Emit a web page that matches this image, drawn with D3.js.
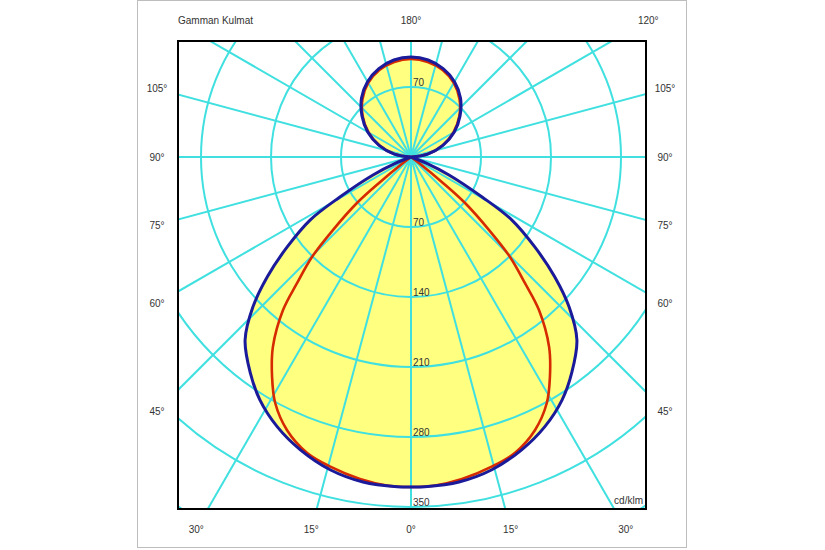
<!DOCTYPE html>
<html>
<head>
<meta charset="utf-8">
<script src="https://cdn.jsdelivr.net/npm/d3@7"></script>
<style>
  html, body { margin: 0; padding: 0; background: #fff; }
  svg { display: block; }
  text { font-family: "Liberation Sans", Arial, sans-serif; font-size: 10px; fill: #333; }
</style>
</head>
<body>
<svg id="chart" width="825" height="550"></svg>
<script>
// C0/C180 plane (blue): gamma angles (deg from nadir) and intensities (cd/klm)
const blueGammas = [0,2.4,8.4,14.5,20.7,26.4,31.9,36.7,42.2,46.5,50.2,54,58,60.6,64.7,68,72,90,100,110,120,130,140,150,160,170,180];
const blueValues = [330,330,328.5,323,313,301,286,269,247,218,187,153,119,82,42,17,0,0,17,34,50,64,77,87,94,98.5,100];
// C90/C270 plane (red)
const redGammas = [0,4,9,14.6,19.4,24.4,28.9,32.3,36,39.9,42.1,44.7,46.9,49.6,51,52.5,54,90,100,110,120,130,140,150,160,170,180];
const redValues = [330,329.5,326,320,313.5,300,281,260,235,199.5,170,141,107,71,40,12,0,0,17,33.5,49,63,75.5,85.5,92.5,96.5,98];
// Grid rings (cd/klm) and labelled ring values
const ringValues = [70,140,210,280,350,420];
const ringLabels = [70,140,210,280,350];
// Spoke angles (every 15°)
const spokeAngles = d3.range(0, 360, 15);
// Angle tick labels
const sideLabels = [105,90,75,60,45];
const bottomLabels = [-30,-15,0,15,30];
const topLabels = [180,120];
const title = "Gamman Kulmat";
const unitLabel = "cd/klm";

const svg = d3.select("#chart");
const frame = {x0:178, y0:41, x1:646, y1:509};
const cx = 411, cy = 157;
const r = d3.scaleLinear().domain([0,350]).range([0,350]);
const toRad = d => d * Math.PI / 180;

// outer border
svg.append("rect").attr("x",137.5).attr("y",0.5).attr("width",549).attr("height",547)
  .attr("fill","#fff").attr("stroke","#bdbdbd").attr("stroke-width",1);

svg.append("defs").append("clipPath").attr("id","clip")
  .append("rect").attr("x",frame.x0).attr("y",frame.y0)
  .attr("width",frame.x1-frame.x0).attr("height",frame.y1-frame.y0);

const plot = svg.append("g").attr("clip-path","url(#clip)");
const g = plot.append("g").attr("transform",`translate(${cx},${cy})`);

// Closed polar outline: right half gamma 0..180, mirrored left half 180..0
function outline(gms, vals){
  const pts = [];
  gms.forEach((gm,i)=> pts.push([Math.PI - toRad(gm), r(vals[i])]));
  for(let i=gms.length-2;i>=1;i--) pts.push([toRad(gms[i]) - Math.PI, r(vals[i])]);
  return pts;
}
const radial = d3.lineRadial().angle(d=>d[0]).radius(d=>d[1])
  .curve(d3.curveCatmullRomClosed.alpha(0.5));

const bluePath = radial(outline(blueGammas, blueValues));
const redPath = radial(outline(redGammas, redValues));

// fill
g.append("path").attr("d", bluePath).attr("fill","#ffff80").attr("stroke","none");

// grid
const gridColor = "#40e0e0";
g.selectAll("circle.ring").data(ringValues).enter().append("circle")
  .attr("class","ring").attr("r",d=>r(d)).attr("fill","none")
  .attr("stroke",gridColor).attr("stroke-width",2);
g.selectAll("line.spoke").data(spokeAngles).enter().append("line")
  .attr("class","spoke")
  .attr("x1",0).attr("y1",0)
  .attr("x2",d=>Math.sin(toRad(d))*700)
  .attr("y2",d=>Math.cos(toRad(d))*700)
  .attr("stroke",gridColor).attr("stroke-width",2);

// curves
g.append("path").attr("d", redPath).attr("fill","none")
  .attr("stroke","#d62a00").attr("stroke-width",2.6);
g.append("path").attr("d", bluePath).attr("fill","none")
  .attr("stroke","#1a1a9a").attr("stroke-width",3);

// ring labels
g.selectAll("text.rl").data(ringLabels).enter().append("text")
  .attr("x",2).attr("y",d=>r(d)-1.5).text(d=>d);
g.append("text").attr("x",2).attr("y",-r(70)-1.5).text(70);

// frame
svg.append("rect").attr("x",frame.x0).attr("y",frame.y0)
  .attr("width",frame.x1-frame.x0).attr("height",frame.y1-frame.y0)
  .attr("fill","none").attr("stroke","#000").attr("stroke-width",2);

// unit
svg.append("text").attr("x",frame.x1-3).attr("y",frame.y1-5)
  .attr("text-anchor","end").text(unitLabel);

// side labels
const sideDx = 254;
[-1,1].forEach(side=>{
  svg.selectAll(null).data(sideLabels).enter().append("text")
    .attr("text-anchor","middle")
    .attr("x", cx + side*sideDx)
    .attr("y", d=> cy + sideDx*Math.cos(toRad(d))/Math.sin(toRad(d)) + 3.5)
    .text(d=>d+"°");
});
// bottom labels
const botDy = 372;
svg.selectAll(null).data(bottomLabels).enter().append("text")
  .attr("text-anchor","middle")
  .attr("x", d=> cx + botDy*Math.tan(toRad(d)))
  .attr("y", cy + botDy + 3.5)
  .text(d=>Math.abs(d)+"°");
// top labels
const topDy = 137;
svg.selectAll(null).data(topLabels).enter().append("text")
  .attr("text-anchor","middle")
  .attr("x", d=> cx + topDy*Math.tan(toRad(180-d)))
  .attr("y", cy - topDy + 3.5)
  .text(d=>d+"°");
svg.append("text").attr("x",frame.x0).attr("y",cy-topDy+3.5).text(title);
</script>
</body>
</html>
